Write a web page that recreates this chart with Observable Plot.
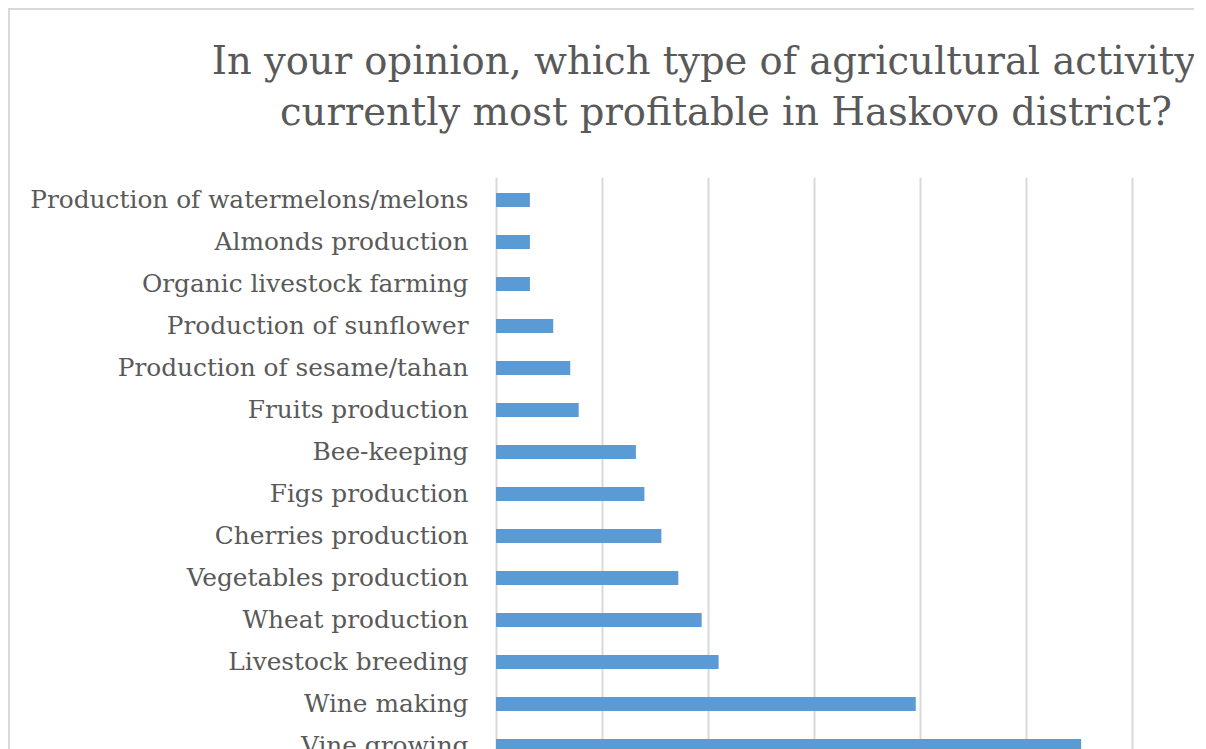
<!DOCTYPE html>
<html><head><meta charset="utf-8">
<script src="https://cdn.jsdelivr.net/npm/d3@7"></script>
<script src="https://cdn.jsdelivr.net/npm/@observablehq/plot@0.6"></script>
<style>
html,body{margin:0;padding:0;background:#fff;overflow:hidden;width:1206px;height:749px}
#clip{position:absolute;left:0;top:0;width:1194px;height:749px;overflow:hidden}
#frame{position:absolute;left:8px;top:8px;width:1500px;height:900px;border:2px solid #d9d9d9;box-sizing:border-box}
.t{position:absolute;left:26px;width:1400px;text-align:center;font-family:"DejaVu Serif",serif;font-size:38.5px;line-height:52px;color:#595959;white-space:nowrap}
#chart{position:absolute;left:0;top:0}
</style></head>
<body>
<div id="clip">
  <div id="frame"></div>
  <div id="chart"></div>
  <div class="t" id="t1" style="top:35px"></div>
  <div class="t" id="t2" style="top:86px"></div>
</div>
<script>
const titleLines = [
  "In your opinion, which type of agricultural activity is",
  "currently most profitable in Haskovo district?"
];
const categories = [
  "Production of watermelons/melons",
  "Almonds production",
  "Organic livestock farming",
  "Production of sunflower",
  "Production of sesame/tahan",
  "Fruits production",
  "Bee-keeping",
  "Figs production",
  "Cherries production",
  "Vegetables production",
  "Wheat production",
  "Livestock breeding",
  "Wine making",
  "Vine growing"
];
const values = [1.6, 1.6, 1.6, 2.7, 3.5, 3.9, 6.6, 7.0, 7.8, 8.6, 9.7, 10.5, 19.8, 27.6];
const gridTicks = [0, 5, 10, 15, 20, 25, 30];

document.getElementById("t1").textContent = titleLines[0];
document.getElementById("t2").textContent = titleLines[1];

const data = categories.map((c, i) => ({category: c, value: values[i]}));

const chart = Plot.plot({
  width: 1194,
  height: 780,
  marginLeft: 496,
  marginRight: 62,
  marginTop: 177.65,
  marginBottom: 12.35,
  style: {fontFamily: "'DejaVu Serif', serif", fontSize: "24.8px", color: "#595959", background: "transparent", maxWidth: "none"},
  x: {domain: [0, 30], range: [496, 1132], axis: null},
  y: {domain: categories, paddingInner: 0.667, paddingOuter: 0.3335, label: null},
  marks: [
    Plot.ruleX(gridTicks, {stroke: "#d9d9d9", strokeWidth: 2}),
    Plot.barX(data, {x: "value", y: "category", fill: "#5b9bd5"}),
    Plot.axisY({tickSize: 0, tickPadding: 28, label: null, fontSize: 24.8})
  ]
});
document.getElementById("chart").appendChild(chart);
</script>
</body></html>
